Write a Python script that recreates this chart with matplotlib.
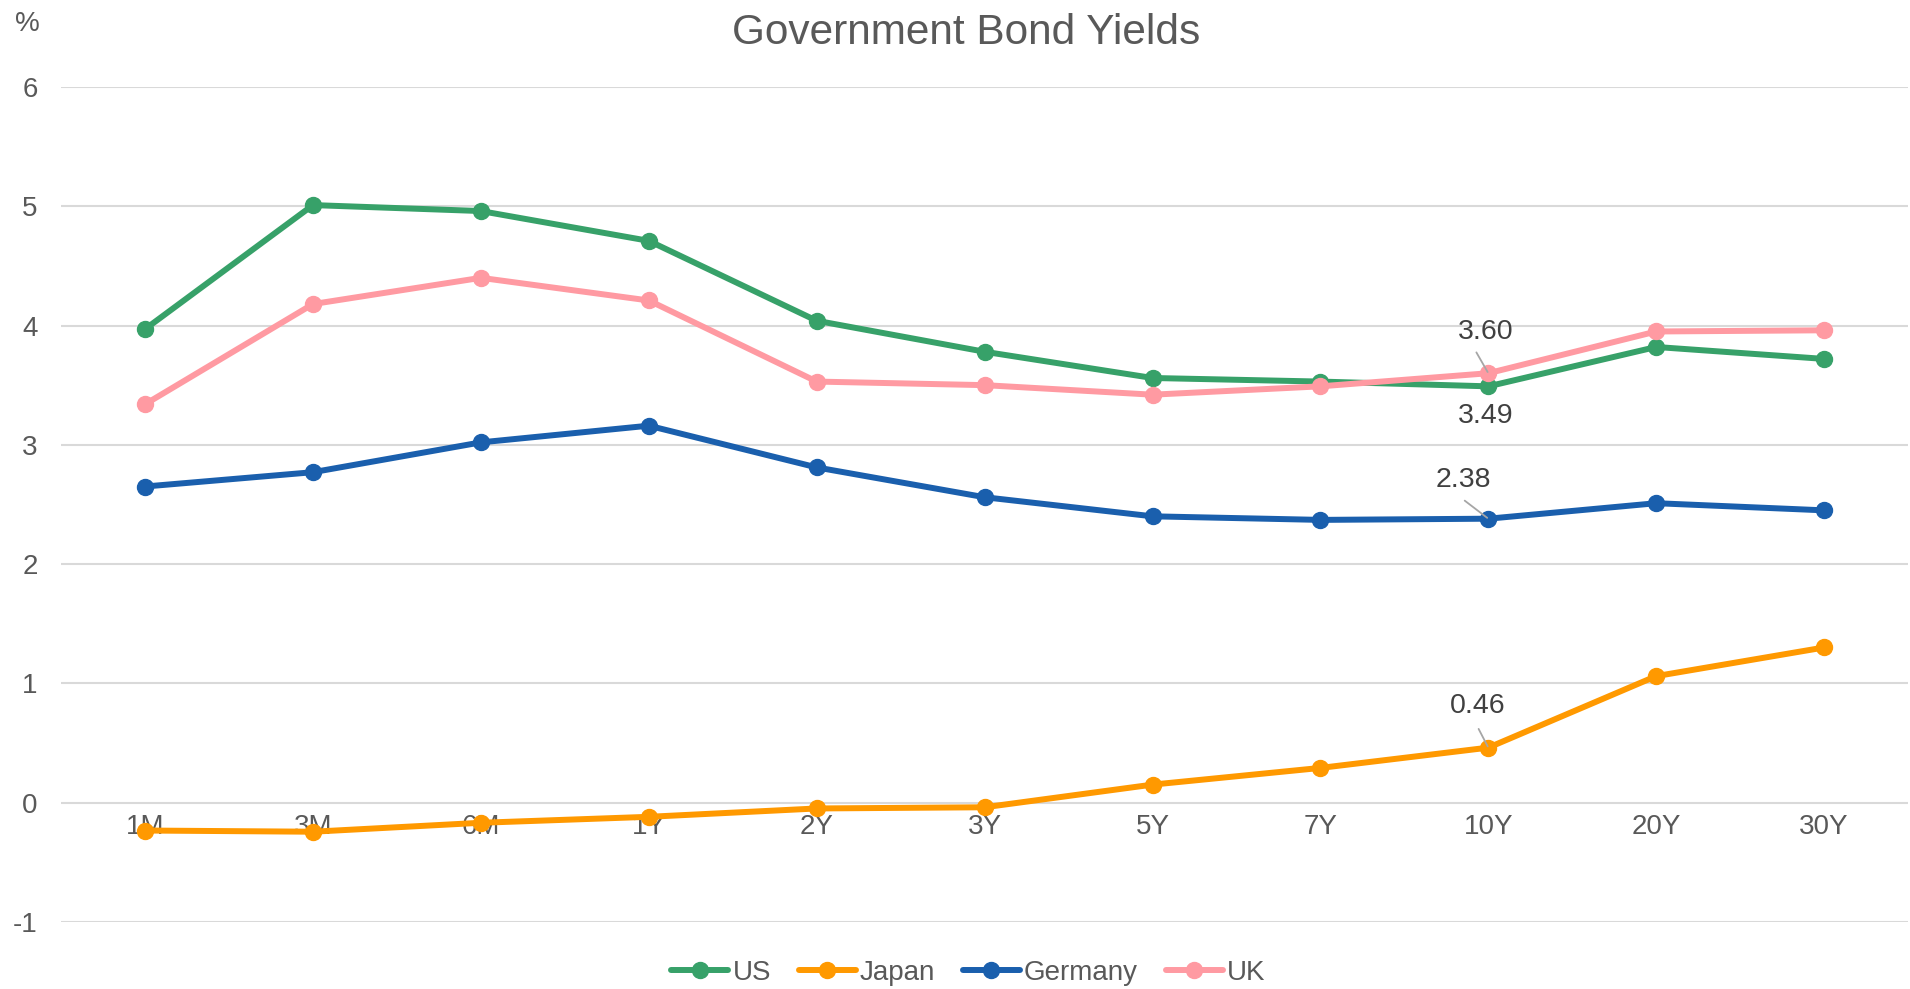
import matplotlib.pyplot as plt
import numpy as np

plt.rcParams['font.family'] = ['Liberation Sans', 'DejaVu Sans']
plt.rcParams['axes.unicode_minus'] = False

# tenors and yields (%)
tenors = ['1M', '3M', '6M', '1Y', '2Y', '3Y', '5Y', '7Y', '10Y', '20Y', '30Y']
us = [3.97, 5.01, 4.96, 4.71, 4.04, 3.78, 3.56, 3.53, 3.49, 3.82, 3.72]
japan = [-0.235, -0.245, -0.17, -0.12, -0.05, -0.04, 0.15, 0.29, 0.46, 1.06, 1.30]
germany = [2.65, 2.77, 3.02, 3.16, 2.81, 2.56, 2.40, 2.37, 2.38, 2.51, 2.45]
uk = [3.34, 4.18, 4.40, 4.21, 3.53, 3.50, 3.42, 3.49, 3.60, 3.95, 3.96]

names = ['US', 'Japan', 'Germany', 'UK']
colors = ['#37A169', '#FF9900', '#1A5FAD', '#FF9AA2']

fig = plt.figure(figsize=(19.1, 9.89), dpi=100)
ax = fig.add_axes([0.032, 0.068, 0.967, 0.844])

x = np.arange(len(tenors))
for vals, name, c in zip([us, japan, germany, uk], names, colors):
    ax.plot(x, vals, color=c, lw=4.3, marker='o', ms=11.5, label=name,
            solid_capstyle='round', zorder=3)

ax.set_xlim(-0.5, len(tenors) - 0.5)
ax.set_ylim(-1, 6)
ax.set_yticks(range(-1, 7))
ax.grid(axis='y', color='#D9D9D9', lw=1.5, zorder=0)
ax.set_axisbelow(True)

for s in ['top', 'right', 'left']:
    ax.spines[s].set_visible(False)
ax.spines['bottom'].set_position(('data', 0))
ax.spines['bottom'].set_visible(False)

ax.set_xticks(x)
ax.set_xticklabels(tenors)
ax.tick_params(axis='x', length=0, pad=8, labelsize=20, labelcolor='#595959')
ax.tick_params(axis='y', length=0, pad=17, labelsize=20, labelcolor='#595959')

fig.text(0.506, 0.967, 'Government Bond Yields', fontsize=30.5,
         color='#595959', ha='center', va='center')
fig.text(0.008, 0.976, '%', fontsize=20, color='#595959', va='center')

# data labels at 10Y
i10 = tenors.index('10Y')
lab_kw = dict(fontsize=20.5, color='#404040', ha='center', va='center',
              textcoords='offset points', zorder=5)
ax.annotate(f'{uk[i10]:.2f}', (i10, uk[i10]), xytext=(-2, 30), **lab_kw)
ax.annotate(f'{us[i10]:.2f}', (i10, us[i10]), xytext=(-2, -21), **lab_kw)
ax.annotate(f'{germany[i10]:.2f}', (i10, germany[i10]), xytext=(-18, 28), **lab_kw)
ax.annotate(f'{japan[i10]:.2f}', (i10, japan[i10]), xytext=(-8, 30), **lab_kw)

# leader lines
leader = dict(arrowstyle='-', color='#A6A6A6', lw=1.3, shrinkA=0, shrinkB=1)
for vals, off in [(uk, (-8.6, 15)), (germany, (-17, 13)), (japan, (-7, 13.5))]:
    ax.annotate('', (i10, vals[i10]), xytext=off, textcoords='offset points',
                arrowprops=leader, zorder=4)

leg = fig.legend(loc='center', bbox_to_anchor=(0.507, 0.016), ncol=4,
                 frameon=False, fontsize=20, handlelength=2.05,
                 handletextpad=0.15, columnspacing=1.0, borderpad=0)
for t in leg.get_texts():
    t.set_color('#595959')

fig.savefig('out.png', dpi=100)
